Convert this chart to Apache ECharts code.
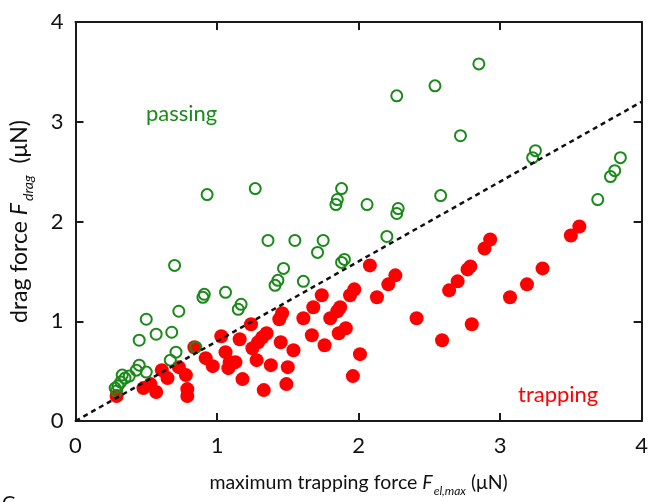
<!DOCTYPE html>
<html>
<head>
<meta charset="utf-8">
<script src="https://cdn.jsdelivr.net/npm/echarts@6/dist/echarts.min.js"></script>
<style>html,body{margin:0;padding:0;background:#fff}#c{width:651px;height:502px}</style>
</head>
<body>
<div id="c"></div>
<script>
// passing (open green circles): [F_el,max, F_drag]
const passing = [
  [2.85,3.58],[2.54,3.36],[2.27,3.26],[2.72,2.86],[3.25,2.71],[3.23,2.64],
  [3.85,2.64],[3.81,2.51],[3.78,2.45],[3.69,2.22],[2.58,2.26],[2.28,2.13],
  [2.27,2.08],[0.93,2.27],[1.27,2.33],[1.88,2.33],[1.85,2.22],[1.84,2.17],
  [2.06,2.17],[2.20,1.85],[1.36,1.81],[1.55,1.81],[1.75,1.81],[1.71,1.69],
  [0.70,1.56],[1.90,1.62],[1.88,1.59],[1.47,1.53],[1.43,1.41],[1.41,1.36],
  [1.61,1.40],[0.91,1.27],[0.90,1.24],[1.06,1.29],[1.17,1.17],[1.15,1.12],
  [0.50,1.02],[0.73,1.10],[0.45,0.81],[0.57,0.87],[0.68,0.89],[0.85,0.74],
  [0.71,0.69],[0.67,0.61],[0.45,0.56],[0.50,0.49],[0.43,0.51],[0.38,0.45],
  [0.35,0.43],[0.32,0.39],[0.30,0.35],[0.28,0.33],[0.33,0.46],[0.29,0.30]
];
// trapping (filled red circles)
const trapping = [
  [3.56,1.95],[3.50,1.86],[2.93,1.82],[2.89,1.73],[2.79,1.55],[2.77,1.52],
  [2.70,1.40],[2.64,1.31],[3.30,1.53],[3.19,1.37],[3.07,1.24],[2.41,1.03],
  [2.80,0.97],[2.59,0.81],[2.08,1.56],[2.26,1.46],[2.21,1.37],[1.97,1.32],
  [1.94,1.26],[1.74,1.26],[2.13,1.24],[1.87,1.14],[1.85,1.10],[1.68,1.14],
  [1.61,1.03],[1.46,1.08],[1.44,1.02],[1.80,1.03],[1.91,0.93],[1.86,0.88],
  [1.67,0.86],[1.76,0.76],[2.01,0.67],[1.96,0.45],[1.24,0.97],[1.35,0.88],
  [1.32,0.84],[1.29,0.79],[1.25,0.73],[1.03,0.85],[1.16,0.82],[1.45,0.79],
  [1.54,0.71],[1.06,0.69],[1.09,0.59],[1.13,0.59],[0.92,0.63],[0.97,0.55],
  [1.08,0.53],[1.28,0.61],[1.38,0.56],[1.50,0.54],[1.18,0.42],[1.49,0.37],
  [1.33,0.31],[0.29,0.25],[0.48,0.33],[0.57,0.29],[0.53,0.37],[0.61,0.51],
  [0.65,0.43],[0.73,0.54],[0.78,0.46],[0.79,0.32],[0.79,0.25],[0.84,0.74]
];
// dashed guide line F_drag = 0.8 * F_el,max
const guide = [[0,0],[4,3.2]];
const axisMin = 0, axisMax = 4, tickStep = 1;

const FONT = 'Lato, "Open Sans", sans-serif';
const chart = echarts.init(document.getElementById('c'), null, {renderer:'canvas'});
const lineStyle = {color:'#1a1a1a', width:2};
const baseAxis = {
  min: axisMin, max: axisMax, interval: tickStep,
  axisLine: {show:true, onZero:false, lineStyle},
  axisTick: {show:true, inside:true, length:8, lineStyle},
  splitLine: {show:false}
};
chart.setOption({
  animation:false,
  backgroundColor:'#ffffff',
  grid:{left:74, right:9, top:22, bottom:64, containLabel:false},
  xAxis:[
    Object.assign({}, baseAxis, {type:'value', position:'bottom',
      axisLabel:{show:true, color:'#111', fontSize:22, fontFamily:FONT, margin:14},
      name:'{n|maximum trapping force }{i|F}{s|el,max}{n| (\u03BCN)}',
      nameLocation:'middle', nameGap:48,
      nameTextStyle:{rich:{
        n:{fontSize:19.5, fontFamily:FONT, color:'#111'},
        i:{fontSize:19.5, fontFamily:FONT, fontStyle:'italic', color:'#111'},
        s:{fontSize:12, fontFamily:FONT, fontStyle:'italic', color:'#111', padding:[16,0,0,1]}
      }}
    }),
    Object.assign({}, baseAxis, {type:'value', position:'top', axisLabel:{show:false}})
  ],
  yAxis:[
    Object.assign({}, baseAxis, {type:'value', position:'left',
      axisLabel:{show:true, color:'#111', fontSize:22, fontFamily:FONT, margin:12},
      name:'{n|drag force }{i|F}{s|drag}{n|  (\u03BCN)}',
      nameLocation:'middle', nameGap:40,
      nameTextStyle:{rich:{
        n:{fontSize:23, fontFamily:FONT, color:'#111'},
        i:{fontSize:23, fontFamily:FONT, fontStyle:'italic', color:'#111'},
        s:{fontSize:14, fontFamily:FONT, fontStyle:'italic', color:'#111', padding:[18,0,0,2]}
      }}
    }),
    Object.assign({}, baseAxis, {type:'value', position:'right', axisLabel:{show:false}})
  ],
  series:[
    {type:'scatter', name:'trapping', data:trapping, symbol:'circle', symbolSize:14, z:2,
     itemStyle:{color:'#ff0000', opacity:1}},
    {type:'scatter', name:'passing', data:passing, symbol:'circle', symbolSize:11, z:3,
     itemStyle:{color:'rgba(255,255,255,0)', borderColor:'#1b8a1b', borderWidth:2, opacity:1}},
    {type:'line', name:'guide', data:guide, symbol:'none', z:4, silent:true,
     lineStyle:{color:'#111', width:2.5, type:[5,4]}}
  ],
  graphic:[
    {type:'text', left:146, top:103, style:{text:'passing', fill:'#1b8a1b', fontSize:22, fontFamily:FONT}},
    {type:'text', left:518, top:384, style:{text:'trapping', fill:'#ff0000', fontSize:22, fontFamily:FONT}},
    {type:'text', left:2, top:494, style:{text:'C', fill:'#111', fontSize:20, fontFamily:FONT}}
  ]
});
</script>
</body>
</html>
